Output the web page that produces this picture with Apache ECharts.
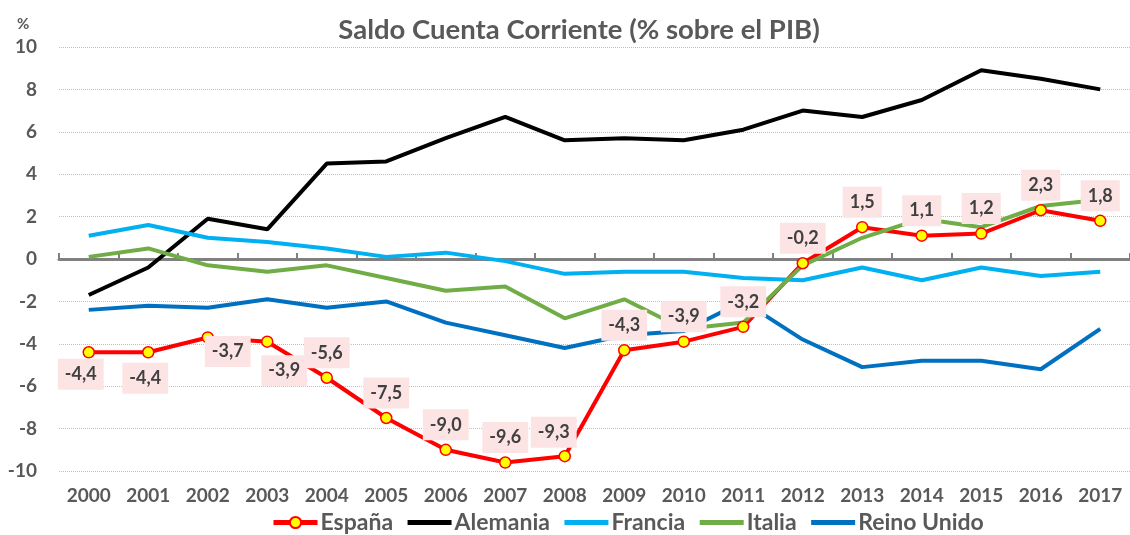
<!DOCTYPE html>
<html>
<head>
<meta charset="utf-8">
<script src="https://cdn.jsdelivr.net/npm/echarts@6/dist/echarts.min.js"></script>
<style>
  html, body { margin: 0; padding: 0; background: #fff; }
  #main { width: 1130px; height: 535px; }
</style>
</head>
<body>
<div id="main"></div>
<script>
var years = ['2000', '2001', '2002', '2003', '2004', '2005', '2006', '2007', '2008',
    '2009', '2010', '2011', '2012', '2013', '2014', '2015', '2016', '2017'];
var espana = [-4.4, -4.4, -3.7, -3.9, -5.6, -7.5, -9.0, -9.6, -9.3, -4.3, -3.9, -3.2, -0.2, 1.5, 1.1, 1.2, 2.3, 1.8];
var alemania = [-1.7, -0.4, 1.9, 1.4, 4.5, 4.6, 5.7, 6.7, 5.6, 5.7, 5.6, 6.1, 7.0, 6.7, 7.5, 8.9, 8.5, 8.0];
var francia = [1.1, 1.6, 1.0, 0.8, 0.5, 0.1, 0.3, -0.1, -0.7, -0.6, -0.6, -0.9, -1.0, -0.4, -1.0, -0.4, -0.8, -0.6];
var italia = [0.1, 0.5, -0.3, -0.6, -0.3, -0.9, -1.5, -1.3, -2.8, -1.9, -3.3, -3.0, -0.3, 1.0, 1.9, 1.5, 2.5, 2.8];
var reinoUnido = [-2.4, -2.2, -2.3, -1.9, -2.3, -2.0, -3.0, -3.6, -4.2, -3.6, -3.4, -2.0, -3.8, -5.1, -4.8, -4.8, -5.2, -3.3];
var seriesNames = ['España', 'Alemania', 'Francia', 'Italia', 'Reino Unido'];

var font = 'Lato';
var grey = '#595959';

// label offsets for España (default: above the point)
var labelShift = { 0: [-8, 22], 1: [-3, 26], 2: [20, 14], 3: [17, 29], 8: [-11, -24] };

var espanaData = espana.map(function (v, i) {
    return {
        value: v,
        label: { offset: labelShift[i] || [0, -25] }
    };
});

function simpleLine(name, values, color) {
    return {
        name: name,
        type: 'line',
        data: values,
        symbol: 'none',
        lineStyle: { color: color, width: 4 },
        itemStyle: { color: color }
    };
}

var legendData = seriesNames.map(function (n, i) {
    if (i == 0) return { name: n };
    return { name: n, itemStyle: { opacity: 0 } };
});

var option = {
    animation: false,
    textStyle: { fontFamily: font },
    title: [
        {
            text: 'Saldo Cuenta Corriente (% sobre el PIB)',
            left: 574,
            textAlign: 'center',
            top: 11,
            textStyle: { fontFamily: font, fontSize: 27.5, fontWeight: 'bold', color: grey }
        },
        {
            text: '%',
            left: 12,
            top: 12,
            textStyle: { fontFamily: font, fontSize: 15, fontWeight: 'bold', color: grey }
        }
    ],
    legend: {
        bottom: -4,
        left: 266,
        itemWidth: 44,
        itemHeight: 14,
        itemGap: 12,
        lineStyle: { width: 5 },
        textStyle: { fontFamily: font, fontSize: 23, fontWeight: 'bold', color: grey, padding: [0, 0, 0, -2] },
        data: legendData
    },
    grid: {
        left: 59,
        right: -9,
        top: 47,
        bottom: 64,
        containLabel: false
    },
    xAxis: [
        {
            type: 'category',
            data: years,
            position: 'bottom',
            axisLine: { show: false, onZero: false },
            axisTick: { show: false },
            axisLabel: { fontFamily: font, fontSize: 19, fontWeight: 'bold', color: grey, margin: 15 }
        },
        {
            type: 'category',
            data: years,
            position: 'bottom',
            axisLine: { show: true, onZero: true, lineStyle: { color: '#808080', width: 3 } },
            axisTick: { show: true, inside: true, length: 6, lineStyle: { color: '#808080', width: 2 } },
            axisLabel: { show: false }
        }
    ],
    yAxis: {
        type: 'value',
        min: -10,
        max: 10,
        interval: 2,
        axisLine: { show: false },
        axisTick: { show: false },
        axisLabel: { fontFamily: font, fontSize: 19, fontWeight: 'bold', color: grey, margin: 22 },
        splitLine: { lineStyle: { color: '#BFBFBF', type: 'dotted', width: 1 } }
    },
    series: [
        {
            name: 'España',
            type: 'line',
            data: espanaData,
            symbol: 'circle',
            symbolSize: 11,
            z: 3,
            lineStyle: { color: '#FF0000', width: 4 },
            itemStyle: { color: '#FFFF00', borderColor: '#FF0000', borderWidth: 1.5 },
            label: {
                show: true,
                position: 'inside',
                formatter: function (p) { return p.value.toFixed(1).replace('.', ','); },
                fontFamily: font,
                fontSize: 18,
                fontWeight: 'bold',
                color: '#404040',
                backgroundColor: '#FCE4E4',
                padding: [7, 7, 6, 7]
            }
        },
        simpleLine('Alemania', alemania, '#000000'),
        simpleLine('Francia', francia, '#00B0F0'),
        simpleLine('Italia', italia, '#70AD47'),
        simpleLine('Reino Unido', reinoUnido, '#0070C0')
    ]
};

echarts.init(document.getElementById('main')).setOption(option);
</script>
</body>
</html>
